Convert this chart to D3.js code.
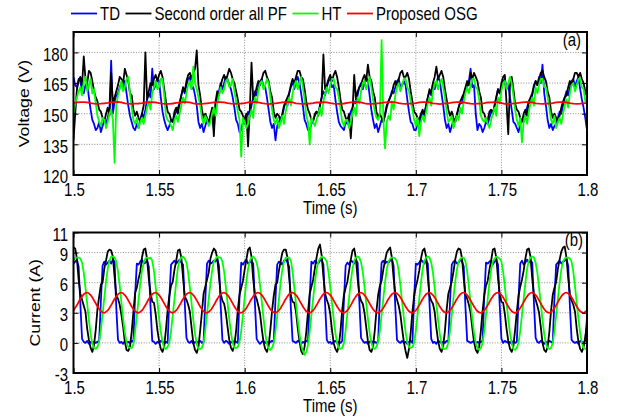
<!DOCTYPE html>
<html>
<head>
<meta charset="utf-8">
<script src="https://cdn.jsdelivr.net/npm/d3@7"></script>
<style>
  html, body { margin: 0; padding: 0; background: #fff; }
  svg { display: block; }
</style>
</head>
<body>
<svg id="chart" width="626" height="418"></svg>
<script>
// ---- axes ----
const timeTicks = [1.5, 1.55, 1.6, 1.65, 1.7, 1.75, 1.8];
const timeLabels = ["1.5", "1.55", "1.6", "1.65", "1.7", "1.75", "1.8"];
const voltageTicks = [120, 135, 150, 165, 180];
const voltageLabels = ["120", "135", "150", "165", "180"];
const voltageRange = [120, 190];
const currentTicks = [-3, 0, 3, 6, 9, 11];
const currentLabels = ["-3", "0", "3", "6", "9", "11"];
const currentRange = [-3, 11];

// ---- legend ----
const seriesNames = ["TD", "Second order all PF", "HT", "Proposed OSG"];
const seriesColors = ["#0000ff", "#000000", "#00ff00", "#ff0000"];

// ---- sampling (s) ----
const sampleStart = 1.5;
const voltageStep = 0.001;
const osgVoltageStep = 0.002;
const currentStep = 0.001;
const osgCurrentStep = 0.002;

// ---- DC voltage (V), one sample every 1 ms (OSG: every 2 ms) ----
const voltageTD = [
  168,164,163,167,166,161,160,164,165,158,152,147,145,142,
  143,146,141,144,147,145,148,152,176,150,156,159,160,163,165,162,166,160,154,149,
  146,143,142,145,143,147,150,148,152,157,160,158,172,162,164,167,166,158,151,147,
  144,142,144,147,146,149,151,153,155,159,162,160,164,167,168,162,163,159,154,146,
  143,145,141,144,147,146,149,152,142,155,158,161,165,162,165,168,167,164,162,158,153,147,
  145,141,142,146,145,148,151,149,154,158,161,159,163,166,167,163,163,158,152,146,
  143,145,137,144,146,148,149,153,156,154,160,163,166,162,166,168,165,160,154,147,
  145,142,142,145,147,149,151,150,154,158,161,159,163,166,167,163,164,157,151,146,
  144,143,142,146,145,148,151,153,156,155,159,163,165,162,165,168,166,159,152,147,
  143,145,141,144,147,146,149,153,156,158,161,160,163,166,167,163,164,166,164,157,151,146,
  145,142,142,145,145,148,151,150,154,158,161,159,165,162,165,168,166,160,154,147,
  143,145,141,144,147,146,149,153,156,155,159,162,163,166,172,163,164,150,142,145,
  144,141,143,146,145,148,151,150,154,158,162,160,163,166,167,162,164,158,152,146,
  145,143,141,145,147,146,149,153,156,155,159,163,166,164,168,165,174,160,154,147,
  143,145,142,144,145,148,151,150,154,158,161,159,163,166,167,163,166,168,162,157,153,148,
  142
];
const voltageSOAPF = [
  137,150,162,166,168,164,178,167,165,171,170,166,161,158,
  156,152,151,148,146,150,153,149,170,155,158,161,164,168,167,165,172,169,166,160,
  159,152,149,151,148,146,150,154,180,157,161,165,164,167,169,166,169,171,168,162,
  156,151,150,147,146,151,153,150,155,159,163,161,166,169,170,167,170,172,181,164,
  159,152,148,150,148,145,149,153,139,156,161,159,164,167,169,166,169,172,170,167,165,161,
  157,152,151,149,147,150,134,152,175,157,159,163,166,164,167,170,171,168,166,161,
  158,151,148,150,149,146,150,154,156,158,160,164,167,165,168,171,171,168,167,162,
  156,152,150,147,146,150,151,149,154,158,179,162,164,167,169,166,169,171,168,163,
  157,152,151,148,147,150,138,151,169,157,161,163,164,167,169,166,174,168,166,161,
  158,151,148,150,148,146,150,154,156,158,160,164,166,164,167,170,171,168,168,170,167,161,
  156,151,150,148,147,150,152,149,154,158,162,160,165,168,173,167,169,171,168,162,
  157,152,149,151,148,146,150,153,156,158,160,163,166,164,170,167,170,168,166,161,
  158,151,150,147,147,151,152,150,154,158,162,160,165,168,169,155,140,164,168,162,
  155,152,151,148,146,150,152,149,156,158,160,164,166,164,167,170,171,168,166,161,
  158,151,148,150,148,146,149,153,156,158,159,163,166,164,167,170,170,168,170,167,165,161,
  158
];
const voltageHT = [
  150,155,158,161,163,159,166,168,161,164,167,160,162,155,
  149,146,144,148,147,143,146,150,152,147,126,154,159,162,166,161,163,167,168,160,
  153,147,145,148,143,146,148,145,149,153,156,152,160,163,166,162,163,167,167,159,
  149,147,146,144,142,147,149,146,150,154,158,155,160,164,166,162,173,165,162,158,
  154,148,145,149,147,144,146,150,153,149,155,159,163,160,162,166,167,163,164,167,161,156,
  151,147,129,148,146,143,145,149,152,148,158,155,161,165,166,162,164,167,165,158,
  152,147,145,148,143,146,149,145,151,155,158,154,160,164,166,162,165,168,163,157,
  149,146,135,148,146,144,147,150,153,149,156,160,163,160,164,167,167,163,162,158,
  152,146,144,147,147,143,146,150,153,149,158,155,161,165,166,162,165,168,163,157,
  151,148,147,150,186,148,133,146,149,147,156,152,159,163,165,161,164,167,167,163,161,156,
  152,147,144,148,139,146,149,146,151,155,158,154,161,165,166,162,165,167,163,158,
  151,146,147,149,143,146,149,147,153,150,156,160,163,160,164,167,167,163,162,157,
  149,147,146,148,145,143,147,150,153,149,158,155,161,165,166,162,165,168,165,159,
  152,147,144,148,136,146,149,145,151,155,158,154,163,160,164,167,167,163,163,158,
  153,147,145,149,143,146,148,145,150,154,157,153,160,164,165,161,164,167,167,163,162,156,
  158
];
const voltageOSG = [
  155.3,155.5,155.7,155.7,155.6,155.2,154.9,154.8,154.9,155.1,
  155.3,155.6,155.7,155.8,155.5,155.1,154.9,154.8,154.9,155.0,
  155.2,155.5,155.6,155.7,155.6,155.2,154.9,154.8,154.8,155.0,
  155.3,155.5,155.7,155.7,155.5,155.1,154.8,154.8,154.9,155.1,
  155.3,155.6,155.7,155.7,155.6,155.2,154.9,154.8,154.9,155.0,
  155.2,155.5,155.7,155.8,155.6,155.2,154.9,154.7,154.9,155.1,
  155.3,155.5,155.7,155.7,155.5,155.1,154.9,154.8,154.9,155.0,
  155.2,155.5,155.6,155.7,155.6,155.2,154.9,154.8,154.8,155.0,
  155.3,155.6,155.7,155.7,155.5,155.1,154.8,154.8,154.9,155.1,
  155.3,155.5,155.7,155.8,155.6,155.2,154.9,154.8,154.9,155.0,
  155.2,155.5,155.7,155.7,155.6,155.1,154.9,154.7,154.9,155.1,
  155.3,155.6,155.7,155.7,155.5,155.2,154.9,154.8,154.9,155.0,
  155.2,155.5,155.6,155.7,155.6,155.2,154.8,154.8,154.9,155.1,
  155.3,155.5,155.7,155.8,155.5,155.1,154.9,154.8,154.9,155.0,
  155.2,155.5,155.7,155.7,155.6,155.2,154.9,154.8,154.9,155.1,
  155.3
];

// ---- current (A), one sample every 1 ms (OSG: every 2 ms) ----
const currentTD = [
  7.9,8.1,8.3,7.6,3.9,0.4,0.1,0.0,0.2,-0.1,0.1,0.0,0.1,0.0,0.1,0.2,
  4.2,7.7,8.1,7.8,8.0,8.2,7.9,8.3,8.1,3.5,0.3,0.0,0.1,-0.1,0.2,0.0,0.1,0.0,0.2,0.1,
  4.8,7.9,7.8,8.1,8.3,7.9,8.0,8.2,7.6,3.6,0.2,0.1,-0.1,0.1,0.0,0.2,0.1,-0.1,0.1,0.0,
  4.5,7.8,8.0,8.2,7.9,8.1,8.3,8.0,7.8,4.0,0.5,0.1,0.0,0.2,-0.1,0.1,0.0,0.1,0.2,0.0,0.1,
  4.3,7.9,8.2,7.9,8.0,8.2,8.1,8.4,7.7,3.7,0.3,0.0,0.2,0.1,-0.1,0.1,0.0,0.2,0.1,0.0,
  4.7,8.0,7.8,8.1,8.3,7.9,8.0,8.2,7.9,3.9,0.4,0.1,-0.1,0.1,0.2,0.0,0.1,-0.1,0.1,0.2,0.1,
  4.4,7.8,8.1,8.0,7.8,8.2,8.3,8.0,7.6,3.4,0.2,0.1,0.0,0.2,0.1,-0.1,0.1,0.0,0.2,0.1,
  4.6,8.1,7.9,8.2,8.0,7.9,8.2,8.3,7.8,3.8,0.3,0.0,0.1,-0.1,0.1,0.2,0.0,0.1,0.0,0.2,
  4.3,7.7,8.0,7.8,8.2,8.1,7.9,8.3,8.0,4.1,0.5,0.2,0.0,0.1,-0.1,0.1,0.2,0.0,0.1,0.0,0.1,
  4.8,8.0,8.2,7.9,8.1,8.0,8.2,8.4,7.7,3.6,0.3,0.1,0.0,0.2,0.0,0.1,-0.1,0.1,0.2,0.0,
  4.5,7.9,7.8,8.0,8.3,8.1,7.9,8.2,7.9,3.9,0.4,0.0,0.1,-0.1,0.2,0.1,0.0,0.1,0.0,0.2,0.1,
  4.2,7.8,8.1,8.2,7.9,8.0,8.3,8.1,7.6,3.5,0.2,0.1,0.0,0.1,0.2,-0.1,0.1,0.0,0.1,0.2,
  4.7,8.0,7.9,8.1,8.2,7.8,8.1,8.3,7.8,3.8,0.4,0.0,0.2,0.1,0.0,0.1,-0.1,0.2,0.0,0.1,
  4.4,7.9,8.2,7.8,8.0,8.3,8.0,8.2,8.0,4.0,0.5,0.1,0.0,0.2,0.1,-0.1,0.1,0.0,0.2,0.1,0.0,
  4.6,7.8,8.0,8.2,7.9,8.1,8.2,8.4,7.7,3.7,0.3,0.1,0.0,0.1,-0.1,0.2,0.1,0.0,0.2,2.5
];
const currentSOAPF = [
  9.5,
  9.4,8.4,6.3,4.9,4.3,3.7,3.1,1.4,0.3,-0.5,-0.9,-0.2,1.3,3.4,4.6,5.8,6.0,7.4,8.2,9.1,9.3,
  9.2,8.6,6.6,4.7,4.4,3.8,2.8,1.6,0.1,-0.7,-0.8,-0.4,1.1,3.1,5.0,5.5,6.4,7.1,8.5,9.3,
  9.4,8.3,6.4,5.0,4.1,4.0,2.9,1.3,0.2,-0.6,-0.9,-0.3,1.3,3.3,4.7,5.7,6.1,7.3,8.2,9.2,
  9.3,8.5,6.5,4.6,4.3,3.8,3.1,1.5,0.0,-0.7,-1.0,-0.4,1.2,3.0,4.9,5.6,6.3,7.0,8.4,9.0,9.4,
  9.2,8.4,6.6,4.9,4.2,3.9,3.0,1.6,0.3,-0.5,-0.8,-0.2,1.2,3.3,4.8,5.5,6.2,7.3,8.3,9.3,
  9.5,8.6,6.3,4.8,4.4,3.7,2.9,1.4,0.1,-0.6,-0.9,-0.3,1.3,3.2,4.7,5.8,6.0,7.2,8.1,9.0,9.3,
  9.3,8.5,6.5,4.7,4.1,4.0,3.1,1.5,0.2,-0.8,-1.1,-0.4,1.1,3.1,4.9,5.6,6.3,7.4,8.5,9.4,
  9.8,8.7,6.6,4.9,4.3,3.8,2.9,1.3,0.0,-0.6,-0.9,-0.3,1.2,3.3,4.8,5.5,6.1,7.2,8.3,9.2,
  9.4,8.4,6.4,4.8,4.2,3.9,3.0,1.6,0.2,-0.7,-0.9,-0.4,1.2,3.2,4.8,5.7,6.2,7.3,8.2,9.0,9.3,
  9.5,8.5,6.5,4.9,4.3,3.7,2.8,1.4,0.1,-0.8,-1.5,-0.6,1.0,3.1,4.7,5.6,6.3,7.2,8.4,9.2,
  9.4,8.6,6.6,4.7,4.2,3.9,3.1,1.5,0.2,-0.6,-0.9,-0.3,1.2,3.3,4.9,5.5,6.1,7.1,8.3,9.1,9.4,
  9.3,8.4,6.4,4.8,4.4,3.8,3.0,1.5,0.1,-0.7,-1.0,-0.4,1.2,3.2,4.8,5.7,6.2,7.3,8.2,9.3,
  9.4,8.5,6.5,4.9,4.1,4.0,2.9,1.4,0.2,-0.6,-0.9,-0.3,1.3,3.1,4.7,5.6,6.3,7.2,8.4,9.3,
  9.4,8.6,6.4,4.8,4.3,3.7,3.0,1.6,0.0,-0.7,-0.9,-0.4,1.1,3.2,4.8,5.5,6.1,7.4,8.3,9.1,9.5,
  9.6,8.5,6.5,4.9,4.2,3.8,3.1,1.4,0.1,-0.6,-0.9,-0.4,0.6,1.8
];
const currentHT = [
  8.2,8.5,8.5,
  8.5,8.4,8.0,7.0,5.5,3.9,2.3,0.9,-0.1,-0.5,-0.6,-0.4,0.1,1.3,2.9,4.5,6.1,7.4,8.2,8.6,
  8.6,8.5,8.1,7.1,5.7,4.0,2.4,1.0,0.0,-0.4,-0.5,-0.5,-0.1,1.1,2.7,4.3,5.9,7.2,8.0,8.4,8.5,
  8.4,8.5,8.2,7.2,5.6,4.1,2.5,1.1,0.1,-0.5,-0.6,-0.4,0.0,1.2,2.8,4.4,6.0,7.5,8.2,8.5,
  8.6,8.4,8.0,7.0,5.5,3.9,2.3,0.9,-0.1,-0.6,-0.6,-0.5,0.0,1.3,2.9,4.4,5.9,7.2,8.1,8.4,8.6,
  8.5,8.5,8.1,7.1,5.6,4.0,2.4,1.0,0.0,-0.5,-0.5,-0.4,0.1,1.2,2.8,4.5,6.1,7.4,8.2,8.5,
  8.6,8.4,8.0,7.2,5.7,4.1,2.5,1.0,-0.1,-0.6,-0.7,-0.5,0.0,1.2,2.7,4.3,6.0,7.3,8.1,8.5,
  8.5,8.5,8.2,7.1,5.5,3.9,2.3,0.9,-0.2,-0.8,-1.2,-0.9,-0.2,1.1,2.8,4.4,6.0,7.3,8.1,8.4,8.6,
  8.5,8.4,8.1,7.0,5.6,4.0,2.4,1.0,0.0,-0.5,-0.6,-0.5,0.0,1.3,2.9,4.5,6.1,7.4,8.2,8.5,
  8.6,8.5,8.0,7.1,5.6,4.0,2.4,1.0,0.0,-0.5,-0.6,-0.4,0.1,1.2,2.8,4.4,6.0,7.3,8.1,8.4,8.5,
  8.5,8.4,8.1,7.2,5.7,4.1,2.5,1.1,0.1,-0.4,-0.5,-0.4,0.0,1.2,2.8,4.4,6.0,7.4,8.2,8.5,
  8.6,8.5,8.0,7.0,5.5,3.9,2.3,0.9,-0.1,-0.6,-0.6,-0.5,0.0,1.2,2.8,4.5,6.1,7.3,8.1,8.4,
  8.5,8.5,8.1,7.1,5.6,4.0,2.4,1.0,0.0,-0.5,-0.7,-0.5,0.0,1.2,2.8,4.4,6.0,7.3,8.1,8.4,8.6,
  8.5,8.4,8.1,7.1,5.6,4.0,2.4,1.0,0.0,-0.6,-0.7,-0.5,0.0,1.2,2.8,4.4,6.0,7.4,8.2,8.5,
  8.6,8.5,8.0,7.0,5.5,3.9,2.3,0.9,-0.1,-0.5,-0.6,-0.5,0.0,1.2,2.8,4.4,6.0,7.3,8.1,8.4,8.5,
  8.5,8.4,8.1,7.1,5.6,4.0,2.4,1.0,0.0,-0.5,-0.6,-0.5
];
const currentOSG = [
  3.23,3.76,4.37,4.85,5.00,4.77,4.24,3.63,3.15,3.00,
  3.23,3.76,4.37,4.85,5.00,4.77,4.24,3.63,3.15,3.00,
  3.23,3.76,4.37,4.85,5.00,4.77,4.24,3.63,3.15,3.00,
  3.23,3.76,4.37,4.85,5.00,4.77,4.24,3.63,3.15,3.00,
  3.23,3.76,4.37,4.85,5.00,4.77,4.24,3.63,3.15,3.00,
  3.23,3.76,4.37,4.85,5.00,4.77,4.24,3.63,3.15,3.00,
  3.23,3.76,4.37,4.85,5.00,4.77,4.24,3.63,3.15,3.00,
  3.23,3.76,4.37,4.85,5.00,4.77,4.24,3.63,3.15,3.00,
  3.23,3.76,4.37,4.85,5.00,4.77,4.24,3.63,3.15,3.00,
  3.23,3.76,4.37,4.85,5.00,4.77,4.24,3.63,3.15,3.00,
  3.23,3.76,4.37,4.85,5.00,4.77,4.24,3.63,3.15,3.00,
  3.23,3.76,4.37,4.85,5.00,4.77,4.24,3.63,3.15,3.00,
  3.23,3.76,4.37,4.85,5.00,4.77,4.24,3.63,3.15,3.00,
  3.23,3.76,4.37,4.85,5.00,4.77,4.24,3.63,3.15,3.00,
  3.23,3.76,4.37,4.85,5.00,4.77,4.24,3.63,3.15,3.00,
  3.23
];

// ---- drawing ----
const FONT = "'Liberation Sans', Arial, Helvetica, sans-serif";
const FONT_SIZE = 15;
const TEXT_STRETCH = 1.18;   // glyphs are drawn a little taller than wide
const TRACE_WIDTH = 1.8;

const svg = d3.select("#chart")
  .attr("font-family", FONT)
  .attr("font-size", FONT_SIZE);

const plotLeft = 73.5, plotRight = 587;
const x = d3.scaleLinear()
  .domain([timeTicks[0], timeTicks[timeTicks.length - 1]])
  .range([plotLeft, plotRight]);

const panels = [
  {
    top: 32, bottom: 175, domain: voltageRange,
    ticks: voltageTicks, labels: voltageLabels,
    yTitle: "Voltage (V)", yTitleX: 28.5,
    tag: "(a)", tagX: 581, tagY: 46,
    series: [
      { values: voltageTD, step: voltageStep, color: seriesColors[0] },
      { values: voltageSOAPF, step: voltageStep, color: seriesColors[1] },
      { values: voltageHT, step: voltageStep, color: seriesColors[2] },
      { values: voltageOSG, step: osgVoltageStep, color: seriesColors[3] }
    ]
  },
  {
    top: 232.5, bottom: 373, domain: currentRange,
    ticks: currentTicks, labels: currentLabels,
    yTitle: "Current (A)", yTitleX: 40,
    tag: "(b)", tagX: 583, tagY: 246,
    series: [
      { values: currentTD, step: currentStep, color: seriesColors[0] },
      { values: currentSOAPF, step: currentStep, color: seriesColors[1] },
      { values: currentHT, step: currentStep, color: seriesColors[2] },
      { values: currentOSG, step: osgCurrentStep, color: seriesColors[3], curve: d3.curveCatmullRom }
    ]
  }
];

const stretch = (dx, dy) => `translate(${dx},${dy}) scale(1,${TEXT_STRETCH})`;

panels.forEach((p, k) => {
  const y = d3.scaleLinear().domain(p.domain).range([p.bottom, p.top]);
  const g = svg.append("g");

  const clipId = "plot-clip-" + k;
  svg.append("defs").append("clipPath").attr("id", clipId)
    .append("rect")
    .attr("x", plotLeft).attr("y", p.top)
    .attr("width", plotRight - plotLeft).attr("height", p.bottom - p.top);

  // dotted grid
  const grid = g.append("g")
    .attr("stroke", "#8c8c8c")
    .attr("stroke-width", 1)
    .attr("stroke-dasharray", "1,1.6");
  grid.selectAll("line.vx")
    .data(timeTicks.slice(1, -1))
    .join("line").attr("class", "vx")
    .attr("x1", d => x(d)).attr("x2", d => x(d))
    .attr("y1", p.top).attr("y2", p.bottom);
  grid.selectAll("line.hy")
    .data(p.ticks.filter(v => v > p.domain[0] && v < p.domain[1]))
    .join("line").attr("class", "hy")
    .attr("x1", plotLeft).attr("x2", plotRight)
    .attr("y1", d => y(d)).attr("y2", d => y(d));

  // traces
  const traces = g.append("g").attr("clip-path", `url(#${clipId})`);
  p.series.forEach(s => {
    const line = d3.line()
      .x((v, i) => x(sampleStart + i * s.step))
      .y(v => y(v))
      .curve(s.curve || d3.curveLinear);
    traces.append("path")
      .datum(s.values)
      .attr("d", line)
      .attr("fill", "none")
      .attr("stroke", s.color)
      .attr("stroke-width", TRACE_WIDTH)
      .attr("stroke-linejoin", "round");
  });

  // axes with inward ticks on all four sides
  const fixAxis = sel => {
    sel.attr("font-family", FONT).attr("font-size", FONT_SIZE);
    sel.select(".domain").remove();
    sel.selectAll(".tick line").attr("stroke", "#000").attr("stroke-width", 1);
  };

  const xb = g.append("g")
    .attr("transform", `translate(0,${p.bottom})`)
    .call(d3.axisBottom(x).tickValues(timeTicks)
      .tickFormat((d, i) => timeLabels[i]).tickSizeInner(-5).tickSizeOuter(0));
  fixAxis(xb);
  xb.selectAll(".tick text")
    .attr("y", null).attr("dy", null).attr("fill", "#000")
    .attr("transform", stretch(0.5, 20.5));

  const xt = g.append("g")
    .attr("transform", `translate(0,${p.top})`)
    .call(d3.axisTop(x).tickValues(timeTicks).tickFormat("").tickSizeInner(-5).tickSizeOuter(0));
  fixAxis(xt);

  const yl = g.append("g")
    .attr("transform", `translate(${plotLeft},0)`)
    .call(d3.axisLeft(y).tickValues(p.ticks)
      .tickFormat((d, i) => p.labels[i]).tickSizeInner(-5).tickSizeOuter(0));
  fixAxis(yl);
  yl.selectAll(".tick text")
    .attr("x", null).attr("dy", "0.36em").attr("fill", "#000")
    .attr("transform", stretch(-5.5, 1.5));

  const yr = g.append("g")
    .attr("transform", `translate(${plotRight},0)`)
    .call(d3.axisRight(y).tickValues(p.ticks).tickFormat("").tickSizeInner(-5).tickSizeOuter(0));
  fixAxis(yr);

  // frame
  g.append("rect")
    .attr("x", plotLeft).attr("y", p.top)
    .attr("width", plotRight - plotLeft).attr("height", p.bottom - p.top)
    .attr("fill", "none").attr("stroke", "#000").attr("stroke-width", 2);

  // titles
  g.append("text")
    .attr("text-anchor", "middle")
    .attr("transform", stretch((plotLeft + plotRight) / 2, p.bottom + 38.5))
    .text("Time (s)");
  g.append("text")
    .attr("text-anchor", "middle")
    .attr("transform", `translate(${p.yTitleX},${(p.top + p.bottom) / 2}) scale(1,${TEXT_STRETCH}) rotate(-90)`)
    .text(p.yTitle);
  g.append("text")
    .attr("text-anchor", "end")
    .attr("transform", stretch(p.tagX, p.tagY))
    .text(p.tag);
});

// legend across the top
const legend = svg.append("g");
let cursor = 71;
seriesNames.forEach((name, i) => {
  legend.append("line")
    .attr("x1", cursor).attr("x2", cursor + 26)
    .attr("y1", 13.5).attr("y2", 13.5)
    .attr("stroke", seriesColors[i]).attr("stroke-width", 1.8);
  const t = legend.append("text")
    .attr("transform", stretch(cursor + 29, 20))
    .text(name);
  cursor += 29 + t.node().getComputedTextLength() + 5.5;
});
</script>
</body>
</html>
